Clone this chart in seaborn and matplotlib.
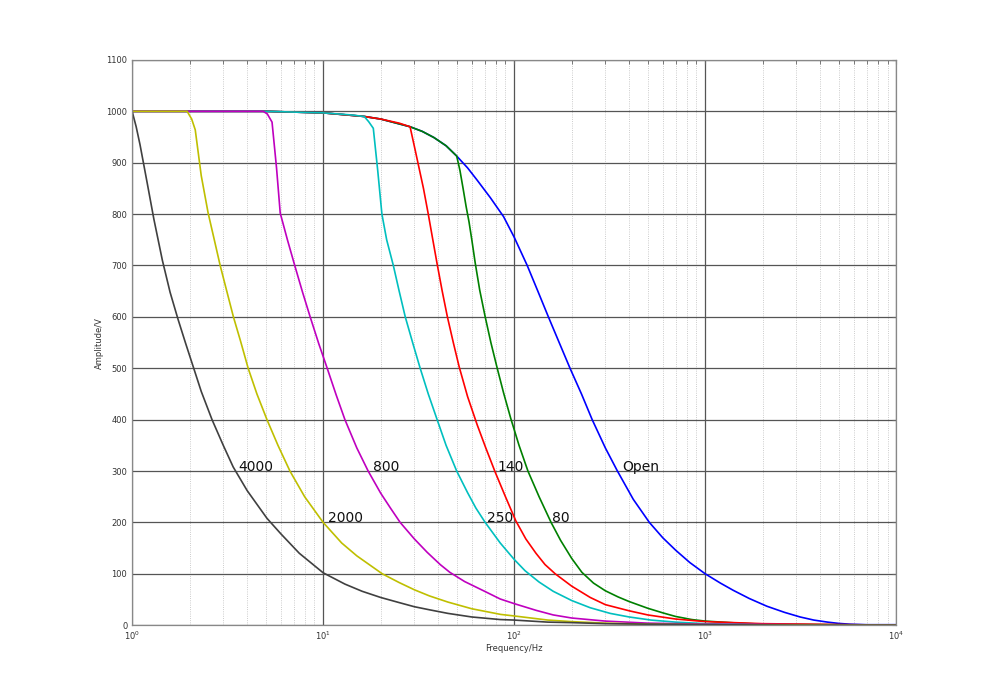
import numpy as np
import pandas as pd
import matplotlib
matplotlib.use("Agg")
import matplotlib.pyplot as plt
import seaborn as sns
from matplotlib.ticker import LogLocator, MultipleLocator, NullFormatter

# ----------------------------------
# Daten
# ----------------------------------

# Open
f_open = [1, 5, 10, 16.4, 20, 28.5, 33, 38, 44, 50, 57, 64, 75, 88, 100, 117, 133, 151, 172, 196,
          225, 256, 300, 347, 420, 510, 600, 700, 830, 1000, 1200, 1400, 1700, 2100, 2600, 3140,
          3700, 4370, 5000, 5700, 7000, 10000]
v_open = [1000, 1000, 997, 990, 985, 970, 961, 949, 933, 913, 890, 866, 832, 795, 755, 700, 650, 600, 550, 500,
          450, 400, 345, 300, 245, 200, 170, 146, 122, 100, 82, 68, 52, 37, 25, 16,
          10, 6, 3.5, 2, 1, 1]

# 80
f_80 = [1, 5, 10, 16.4, 20, 28.5, 33, 38, 44, 50, 52, 54, 56, 58, 60, 62.5, 66, 70.5, 75.5, 81.5,
        88, 96, 106, 118, 135, 156, 175, 200, 226, 260, 300, 350, 400, 500, 600, 700, 850, 1000,
        1500, 2000, 5000, 10000]
v_80 = [1000, 1000, 997, 990, 985, 970, 961, 949, 933, 913, 885, 850, 815, 785, 750, 705, 652, 600, 550, 500,
        452, 402, 350, 300, 250, 200, 165, 130, 103, 82, 67, 55, 46, 33, 24, 17, 11, 8,
        4, 2, 1, 0]

# 140
f_140 = [1, 5, 10, 16.4, 20, 25, 28.5, 30.3, 33.5, 35.5, 37.5, 39.5, 42, 44.7, 48, 51.5, 57, 64, 71, 79.5,
         90, 102, 115, 130, 145, 164, 200, 250, 300, 400, 500, 700, 1000, 2000, 10000]
v_140 = [1000, 1000, 997, 990, 985, 977, 970, 925, 850, 800, 750, 703, 650, 600, 550, 503, 445, 390, 345, 298,
         250, 203, 168, 140, 118, 100, 76, 54, 40, 28, 20, 12, 7, 3, 0]

# 250
f_250 = [1, 5, 10, 14, 16.4, 17.3, 18.3, 19.3, 20.3, 21.5, 23.3, 25, 26.9, 29.5, 32.2, 35.5, 39.5, 44,
         50, 57, 63, 70.5, 84.5, 100, 114, 135, 160, 200, 250, 318, 400, 520, 700, 1000, 2000, 10000]
v_250 = [1000, 1000, 997, 993, 990, 980, 967, 885, 800, 750, 700, 650, 600, 548, 500, 450, 400, 350,
         300, 258, 228, 200, 160, 128, 106, 84, 66, 48, 34, 23, 16, 10, 6, 3, 1, 0]

# 800
f_800 = [1, 4.85, 5.1, 5.4, 5.7, 5.96, 6.5, 7.1, 7.8, 8.55, 9.5, 10.5, 11.7, 13, 15, 17.2, 20, 22.5,
         25.3, 30, 35, 41, 46, 55, 70, 84.5, 100, 130, 160, 200, 300, 500, 1000, 3000, 10000]
v_800 = [1000, 1000, 995, 979, 890, 802, 750, 700, 648, 600, 547, 500, 448, 400, 345, 300, 257, 228,
         200, 168, 142, 118, 103, 85, 66, 51, 42, 29, 20, 14, 8, 4, 2, 1, 0]

# 2000
f_2000 = [1, 1.94, 2.05, 2.14, 2.3, 2.5, 2.7, 2.89, 3.1, 3.39, 3.7, 4.05, 4.5, 5.08, 5.8, 6.7, 8, 10,
          12.5, 15, 20.4, 25, 30, 36, 45, 60, 85, 100, 150, 200, 300, 500, 1000, 10000]
v_2000 = [1000, 1000, 985, 964, 875, 802, 748, 700, 656, 600, 552, 500, 450, 400, 350, 300, 250, 200,
          160, 135, 100, 83, 69, 57, 45, 32, 21, 18, 10, 7, 4, 2, 1, 0]

# 4000
f_4000 = [1, 1.05, 1.1, 1.2, 1.3, 1.44, 1.58, 1.74, 1.9, 2.08, 2.3, 2.62, 3, 3.38, 4, 5.08, 6, 7.5,
          10, 13, 16, 20, 25, 30, 36, 45, 60, 84.5, 100, 150, 200, 300, 500, 1000, 3000, 10000]
v_4000 = [1000, 970, 935, 860, 790, 710, 648, 595, 550, 505, 455, 400, 350, 308, 262, 208, 178, 140,
          102, 80, 66, 54, 44, 36, 30, 23, 16, 11, 10, 6, 5, 3, 2, 1, 0, 0]

lasten = ["Open", "80", "140", "250", "800", "2000", "4000"]
farben = [(0, 0, 1), (0, 0.5, 0), (1, 0, 0), (0, 0.75, 0.75),
          (0.75, 0, 0.75), (0.75, 0.75, 0), (0.25, 0.25, 0.25)]

# Beschriftungen im Diagramm
label_texte = ["4000", "2000", "800", "250", "140", "80", "Open"]
label_x = [3.6, 10.6, 18.3, 72.3, 81.5, 158, 367]
label_y = [308, 208, 308, 208, 308, 208, 308]

kurven = {
    "Open": (f_open, v_open),
    "80": (f_80, v_80),
    "140": (f_140, v_140),
    "250": (f_250, v_250),
    "800": (f_800, v_800),
    "2000": (f_2000, v_2000),
    "4000": (f_4000, v_4000),
}

df = pd.concat(
    [pd.DataFrame({"Frequenz": f, "Amplitude": v, "Last": name}) for name, (f, v) in kurven.items()],
    ignore_index=True,
)

# ----------------------------------
# Plot
# ----------------------------------

sns.set_style("white")
plt.rcParams["font.family"] = ["DejaVu Sans"]

fig = plt.figure(figsize=(9.86, 6.97), dpi=100)
ax = fig.add_axes([0.134, 0.103, 0.775, 0.811])

sns.lineplot(data=df, x="Frequenz", y="Amplitude", hue="Last", hue_order=lasten,
             palette=farben, estimator=None, linewidth=1.2, legend=False, ax=ax)

ax.set_xscale("log")
ax.set_xlim(1, 10000)
ax.set_ylim(0, 1100)
ax.yaxis.set_major_locator(MultipleLocator(100))
ax.xaxis.set_major_locator(LogLocator(base=10, numticks=10))
ax.xaxis.set_minor_locator(LogLocator(base=10, subs=np.arange(2, 10), numticks=20))
ax.xaxis.set_minor_formatter(NullFormatter())

# Gitter im MATLAB-Stil
ax.grid(True, which="major", color="#555555", linewidth=0.9, linestyle="-")
ax.grid(True, which="minor", axis="x", color="#bbbbbb", linewidth=0.6, linestyle=":")
ax.set_axisbelow(True)

for s in ax.spines.values():
    s.set_color("#888888")
    s.set_linewidth(0.9)

ax.tick_params(which="both", direction="in", top=True, right=True,
               colors="#666666", labelcolor="#333333", labelsize=6)
ax.tick_params(which="major", length=3)
ax.tick_params(which="minor", length=3)

ax.set_xlabel("Frequency/Hz", fontsize=6, color="#333333", labelpad=1)
ax.set_ylabel("Amplitude/V", fontsize=6, color="#333333", labelpad=2)

for txt, x, y in zip(label_texte, label_x, label_y):
    ax.text(x, y, txt, fontsize=10, ha="left", va="center", color="#111111")

fig.savefig("out.png", dpi=100, facecolor="white")
